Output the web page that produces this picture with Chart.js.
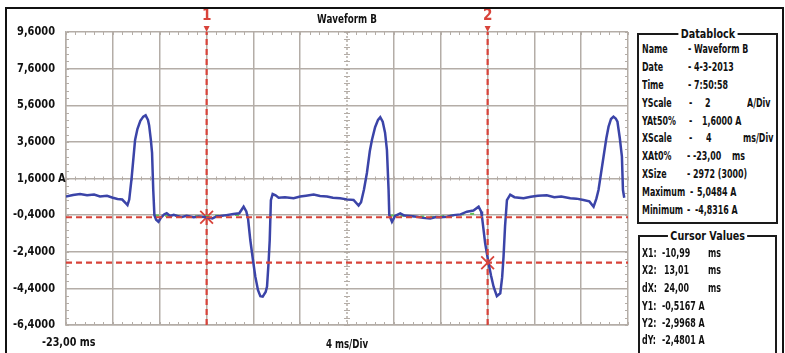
<!DOCTYPE html>
<html>
<head>
<meta charset="utf-8">
<script src="https://cdn.jsdelivr.net/npm/chart.js@4.4.1/dist/chart.umd.min.js"></script>
<style>
  body { margin: 0; background: #fff; }
  #wrap { position: relative; width: 785px; height: 353px; overflow: hidden; }
  #scope { position: absolute; left: 0; top: 0; }
  .frame { position: absolute; left: 5px; top: 7px; width: 775px; height: 352px;
           border: 2px solid #111; }
  .box { position: absolute; border: 2px solid #1a1a1a; background: #fff;
         font: bold 12px "DejaVu Sans", sans-serif; color: #111; }
  .box .ttl { position: absolute; left: 0; right: 0; top: -8px; text-align: center; line-height: 14px; }
  .box .ttl span { display: inline-block; background: #fff; padding: 0 3px; transform: scaleX(0.8); }
  .row { position: absolute; left: 0; right: 0; height: 14px; line-height: 14px; white-space: nowrap; }
  .row span { position: absolute; transform: scaleX(0.66); transform-origin: 0 50%; }
</style>
</head>
<body>
<div id="wrap">
  <canvas id="scope" width="785" height="353"></canvas>
  <div class="frame"></div>

  <div class="box" style="left:637px; top:33px; width:137px; height:187px;">
    <div class="ttl"><span>Datablock</span></div>
    <div class="row" style="top:7px"><span style="left:3px">Name</span><span style="left:49px">- Waveform B</span></div>
    <div class="row" style="top:25px"><span style="left:3px">Date</span><span style="left:49px">- 4-3-2013</span></div>
    <div class="row" style="top:43px"><span style="left:3px">Time</span><span style="left:49px">- 7:50:58</span></div>
    <div class="row" style="top:61px"><span style="left:3px">YScale</span><span style="left:50px">-</span><span style="left:66px">2</span><span style="left:108px">A/Div</span></div>
    <div class="row" style="top:79px"><span style="left:3px">YAt50%</span><span style="left:50px">-</span><span style="left:63px">1,6000 A</span></div>
    <div class="row" style="top:96px"><span style="left:3px">XScale</span><span style="left:50px">-</span><span style="left:67px">4</span><span style="left:104px">ms/Div</span></div>
    <div class="row" style="top:114px"><span style="left:3px">XAt0%</span><span style="left:48px">- -23,00</span><span style="left:93px">ms</span></div>
    <div class="row" style="top:132px"><span style="left:3px">XSize</span><span style="left:48px">- 2972 (3000)</span></div>
    <div class="row" style="top:150px"><span style="left:3px">Maximum</span><span style="left:51px">-</span><span style="left:58px">5,0484 A</span></div>
    <div class="row" style="top:168px"><span style="left:3px">Minimum</span><span style="left:48px">-</span><span style="left:56px">-4,8316 A</span></div>
  </div>

  <div class="box" style="left:638px; top:235px; width:135px; height:120px;">
    <div class="ttl"><span>Cursor Values</span></div>
    <div class="row" style="top:9px"><span style="left:2px">X1:</span><span style="left:22px">-10,99</span><span style="left:68px">ms</span></div>
    <div class="row" style="top:26px"><span style="left:2px">X2:</span><span style="left:24px">13,01</span><span style="left:68px">ms</span></div>
    <div class="row" style="top:44px"><span style="left:2px">dX:</span><span style="left:24px">24,00</span><span style="left:68px">ms</span></div>
    <div class="row" style="top:62px"><span style="left:2px">Y1:</span><span style="left:22px">-0,5167 A</span></div>
    <div class="row" style="top:79px"><span style="left:2px">Y2:</span><span style="left:22px">-2,9968 A</span></div>
    <div class="row" style="top:96px"><span style="left:2px">dY:</span><span style="left:22px">-2,4801 A</span></div>
  </div>
</div>

<script>
// Waveform B (ms / A)
const timeMs = [
  -23.0, -22.4, -21.8, -21.2, -20.6, -20.1, -19.5, -19.0, -18.6, -18.2,
  -17.9, -17.75, -17.6, -17.4, -17.1, -16.9, -16.65, -16.4, -16.2, -16.0,
  -15.9, -15.75, -15.65, -15.55, -15.45, -15.3, -15.1, -14.9, -14.6, -14.4,
  -14.1, -13.8, -13.5, -13.1, -12.7, -12.1, -11.6, -11.0, -10.5, -10.1,
  -9.8, -9.3, -8.7, -8.2, -7.83, -7.6, -7.45, -7.26, -7.0, -6.83,
  -6.6, -6.4, -6.2, -5.95, -5.83, -5.7, -5.6, -5.5, -5.35, -5.1,
  -4.84, -4.3, -3.56, -3.0, -2.5, -1.85, -1.3, -0.71, -0.2, 0.4,
  1.0, 1.56, 1.99, 2.2, 2.45, 2.7, 2.95, 3.13, 3.4, 3.65,
  3.84, 4.05, 4.25, 4.41, 4.55, 4.61, 4.84, 5.1, 5.55, 5.9,
  6.4, 6.97, 7.5, 8.11, 8.6, 9.0, 9.54, 10.1, 10.7, 11.24,
  11.8, 12.24, 12.45, 12.53, 12.8, 13.09, 13.3, 13.52, 13.8, 14.09,
  14.25, 14.37, 14.5, 14.66, 14.94, 15.3, 16.08, 16.7, 17.3, 18.06,
  18.7, 19.3, 20.07, 20.6, 21.2, 21.7, 22.06, 22.3, 22.48, 22.7,
  22.91, 23.15, 23.34, 23.55, 23.76, 23.95, 24.1, 24.3, 24.48, 24.57,
  24.68
];
const currentA = [
  0.62, 0.70, 0.75, 0.68, 0.72, 0.62, 0.66, 0.55, 0.48, 0.45,
  0.25, 0.15, 0.45, 1.6, 3.7, 4.3, 4.75, 4.98, 5.05, 4.8,
  4.5, 3.7, 3.0, 1.0, -0.4, -0.65, -0.76, -0.55, -0.35, -0.3,
  -0.45, -0.38, -0.45, -0.5, -0.44, -0.52, -0.48, -0.52, -0.58, -0.46,
  -0.45, -0.40, -0.34, -0.30, 0.06, -0.2, -0.6, -1.76, -3.0, -3.76,
  -4.5, -4.83, -4.85, -4.6, -4.3, -3.0, -1.76, 0.42, 0.75, 0.68,
  0.55, 0.58, 0.52, 0.62, 0.66, 0.72, 0.64, 0.62, 0.55, 0.52,
  0.46, 0.43, 0.12, 0.3, 1.0, 1.9, 3.1, 3.7, 4.4, 4.8,
  4.95, 4.7, 4.1, 3.16, 1.0, -0.39, -0.76, -0.45, -0.3, -0.42,
  -0.45, -0.49, -0.55, -0.58, -0.5, -0.52, -0.49, -0.4, -0.36, -0.21,
  -0.15, 0.06, -0.2, -0.49, -1.94, -3.03, -3.7, -4.31, -4.82, -4.67,
  -3.8, -2.67, -1.0, 0.42, 0.72, 0.58, 0.52, 0.6, 0.66, 0.68,
  0.58, 0.62, 0.52, 0.50, 0.43, 0.35, 0.06, 0.5, 0.97, 1.9,
  2.79, 3.8, 4.43, 4.85, 4.98, 4.88, 4.7, 3.8, 2.79, 0.97,
  0.55
];

// green reference trace on the flat parts
const greenTimeMs = [-15.4, -13.5, -11.5, -9.5, -7.9, -7.9, 4.7, 6.5, 8.5, 10.5, 12.3];
const greenA      = [-0.42, -0.44, -0.47, -0.42, -0.38, null, -0.42, -0.45, -0.50, -0.38, -0.30];

// cursors
const cursorX = [-10.99, 13.01];
const cursorY = [-0.5167, -2.9968];
const cursorNames = ['1', '2'];

// axes
const xTicks = [-23, -19, -15, -11, -7, -3, 1, 5, 9, 13, 17, 21, 25];
const yTicks = [-6.4, -4.4, -2.4, -0.4, 1.6, 3.6, 5.6, 7.6, 9.6];
const xCentre = 1;
const yCentre = 1.6;

const gridGray = '#b4ada7';
const red = '#d8433a';
const labelFont = 'bold 12px "DejaVu Sans", sans-serif';

const pts = (xs, ys) => xs.map((v, i) => ({ x: v, y: ys[i] }));

// narrow scope font: draw squeezed horizontally
function squeeze(ctx, text, x, y, align, sx) {
  ctx.save();
  ctx.translate(x, y);
  ctx.scale(sx, 1);
  ctx.textAlign = align;
  ctx.fillText(text, 0, 0);
  ctx.restore();
}

const scopeDecor = {
  id: 'scopeDecor',
  beforeDatasetsDraw(chart) {
    const { ctx, chartArea: a, scales: { x, y } } = chart;
    const xc = x.getPixelForValue(xCentre);
    const yc = y.getPixelForValue(yCentre);
    ctx.save();
    ctx.strokeStyle = gridGray;
    ctx.lineWidth = 1;
    ctx.beginPath();
    // minor ticks, 5 per division
    for (let i = 0; i <= 60; i++) {
      const px = Math.round(x.getPixelForValue(xTicks[0] + i * 0.8)) + 0.5;
      ctx.moveTo(px, a.top); ctx.lineTo(px, a.top + 3);
      ctx.moveTo(px, a.bottom); ctx.lineTo(px, a.bottom - 3);
      ctx.moveTo(px, yc - 2); ctx.lineTo(px, yc + 2);
    }
    for (let i = 0; i <= 40; i++) {
      const py = Math.round(y.getPixelForValue(yTicks[0] + i * 0.4)) + 0.5;
      ctx.moveTo(a.left, py); ctx.lineTo(a.left + 3, py);
      ctx.moveTo(a.right, py); ctx.lineTo(a.right - 3, py);
      ctx.moveTo(xc - 3, py); ctx.lineTo(xc + 3, py);
    }
    ctx.stroke();
    // dotted centre vertical
    ctx.setLineDash([2, 2]);
    ctx.lineWidth = 1.5;
    ctx.beginPath();
    ctx.moveTo(xc, a.top); ctx.lineTo(xc, a.bottom);
    ctx.stroke();
    ctx.restore();
  },
  afterDraw(chart) {
    const { ctx, chartArea: a, scales: { x, y } } = chart;
    ctx.save();
    ctx.font = labelFont;
    ctx.fillStyle = '#111';
    ctx.textBaseline = 'middle';
    yTicks.forEach(v => {
      const py = y.getPixelForValue(v);
      squeeze(ctx, v.toFixed(4).replace('.', ','), 55, py, 'right', 0.82);
      if (v === yCentre) squeeze(ctx, 'A', 58, py, 'left', 0.82);
    });
    squeeze(ctx, '-23,00 ms', 42, 343, 'left', 0.8);
    squeeze(ctx, '4 ms/Div', x.getPixelForValue(xCentre), 345, 'center', 0.72);
    squeeze(ctx, 'Waveform B', x.getPixelForValue(xCentre), 20, 'center', 0.73);
    // cursor numbers with little arrow heads
    ctx.fillStyle = red;
    ctx.font = 'bold 16px "DejaVu Sans", sans-serif';
    cursorX.forEach((v, i) => {
      const px = x.getPixelForValue(v);
      squeeze(ctx, cursorNames[i], px, a.top - 16, 'center', 0.85);
      ctx.beginPath();
      ctx.moveTo(px - 3, a.top - 6); ctx.lineTo(px + 3, a.top - 6); ctx.lineTo(px, a.top);
      ctx.fill();
    });
    ctx.restore();
  }
};

const dashed = (data) => ({
  data, borderColor: red, borderWidth: 2.2, borderDash: [6, 4],
  pointRadius: 0, fill: false
});

new Chart(document.getElementById('scope'), {
  type: 'line',
  data: {
    datasets: [
      dashed(pts([xTicks[0], xTicks[xTicks.length - 1]], [cursorY[0], cursorY[0]])),
      dashed(pts([xTicks[0], xTicks[xTicks.length - 1]], [cursorY[1], cursorY[1]])),
      dashed(pts([cursorX[0], cursorX[0]], [yTicks[0], yTicks[yTicks.length - 1]])),
      dashed(pts([cursorX[1], cursorX[1]], [yTicks[0], yTicks[yTicks.length - 1]])),
      {
        data: pts(timeMs, currentA),
        borderColor: '#3b44a8', borderWidth: 2.5, pointRadius: 0, tension: 0
      },
      {
        data: pts(greenTimeMs, greenA),
        borderColor: '#62c25a', borderWidth: 2, borderDash: [4, 6], pointRadius: 0, spanGaps: false
      },
      {
        type: 'scatter',
        data: pts(cursorX, cursorY),
        pointStyle: 'crossRot', pointRadius: 9, borderColor: red, borderWidth: 1.8
      }
    ]
  },
  options: {
    responsive: false,
    devicePixelRatio: 1,
    animation: false,
    layout: { padding: { left: 8, top: 32, right: 157, bottom: 28 } },
    plugins: { legend: { display: false }, tooltip: { enabled: false } },
    scales: {
      x: {
        type: 'linear', min: xTicks[0], max: xTicks[xTicks.length - 1],
        afterBuildTicks: s => { s.ticks = xTicks.map(v => ({ value: v })); },
        afterFit: s => { s.height = 0; },
        ticks: { display: false },
        grid: {
          drawTicks: false, lineWidth: 1.5,
          color: c => (c.tick && c.tick.value === xCentre) ? 'rgba(0,0,0,0)' : gridGray
        },
        border: { color: gridGray, width: 1.5 }
      },
      y: {
        min: yTicks[0], max: yTicks[yTicks.length - 1],
        afterBuildTicks: s => { s.ticks = yTicks.map(v => ({ value: v })); },
        afterFit: s => { s.width = 58; },
        ticks: { display: false },
        grid: { drawTicks: false, lineWidth: 1.5, color: gridGray },
        border: { color: gridGray, width: 1.5 }
      }
    }
  },
  plugins: [scopeDecor]
});
</script>
</body>
</html>
